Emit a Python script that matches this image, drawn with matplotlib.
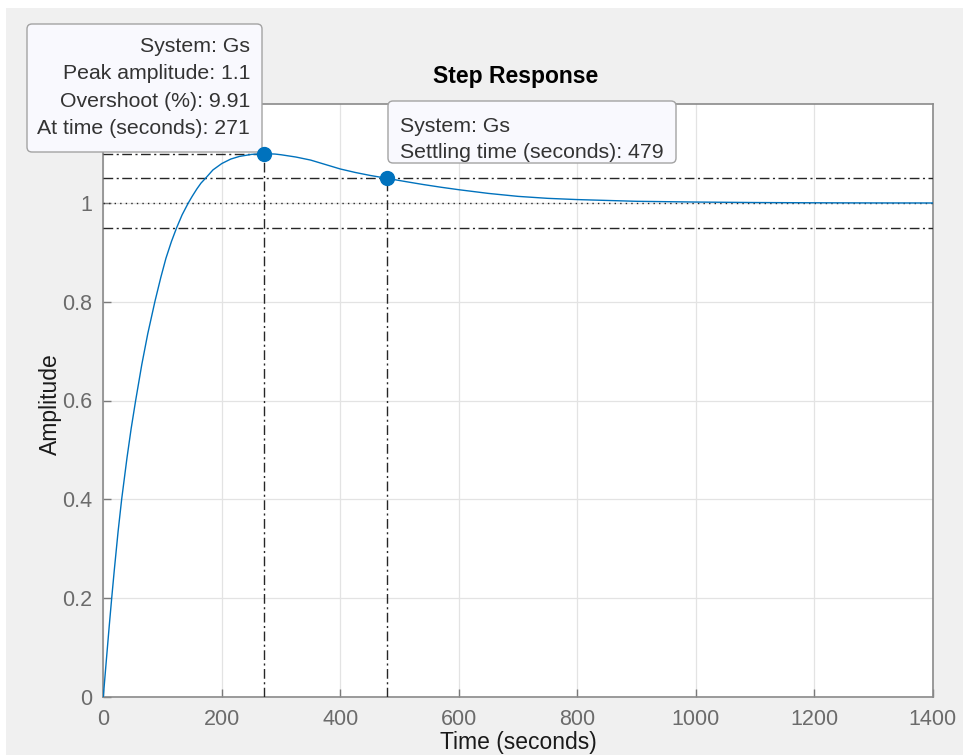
import matplotlib
matplotlib.use("Agg")
import matplotlib.pyplot as plt
from matplotlib.patches import FancyBboxPatch, Rectangle
from matplotlib.transforms import Affine2D

plt.rcParams["font.family"] = ["Liberation Sans", "DejaVu Sans"]

# step response
time_s = [0, 5, 10, 14.2, 18.6, 25, 31, 40, 47, 54.6, 65, 75, 87.2, 97, 105.7,
          115, 123.8, 133, 143.4, 150, 158, 165, 173.2, 185, 200, 215, 230, 250,
          271, 290, 300, 325, 350, 375, 400, 425, 450, 479, 510, 540, 570, 600,
          650, 700, 750, 800, 900, 1000, 1100, 1200, 1300, 1400]
amplitude = [0, 0.072, 0.143, 0.2, 0.257, 0.335, 0.4, 0.484, 0.543, 0.6, 0.673,
             0.735, 0.801, 0.849, 0.888, 0.922, 0.95, 0.976, 1.0, 1.0135, 1.0287,
             1.0405, 1.051, 1.067, 1.080, 1.089, 1.0945, 1.0985, 1.1, 1.0992,
             1.0978, 1.0932, 1.087, 1.078, 1.069, 1.062, 1.056, 1.05, 1.0435,
             1.0375, 1.032, 1.027, 1.0195, 1.0135, 1.0095, 1.007, 1.0035, 1.002,
             1.001, 1.0005, 1.0002, 1.0001]

peak_time, peak_amp = 271, 1.1
settle_time, settle_amp = 479, 1.05
final_value = 1.0
settle_band = [0.95, 1.05]

x_ticks = [0, 200, 400, 600, 800, 1000, 1200, 1400]
y_ticks = [0, 0.2, 0.4, 0.6, 0.8, 1.0]
y_tick_labels = ["0", "0.2", "0.4", "0.6", "0.8", "1"]

peak_lines = ["System: Gs", "Peak amplitude: 1.1", "Overshoot (%): 9.91",
              "At time (seconds): 271"]
settle_lines = ["System: Gs", "Settling time (seconds): 479"]

W, H = 963, 755
fig = plt.figure(figsize=(W / 100, H / 100), dpi=100, facecolor="#f0f0f0")
# pixel coordinates, origin top-left
pix = Affine2D().scale(1 / W, -1 / H).translate(0, 1) + fig.transFigure

# thin white margin along the top and left edges
fig.patches.append(Rectangle((0, 0), W, 8, transform=pix, facecolor="white",
                             edgecolor="none", zorder=-1))
fig.patches.append(Rectangle((0, 0), 6, H, transform=pix, facecolor="white",
                             edgecolor="none", zorder=-1))

ax = fig.add_axes([103.3 / W, 1 - 696.7 / H, (932.7 - 103.3) / W, (696.7 - 104.3) / H])
ax.set_facecolor("white")

ref = dict(color="#262626", lw=1.0, zorder=3)
dashdot = (0, (7, 2.5, 1.5, 2.5))
for yb in settle_band:
    ax.axhline(yb, linestyle=dashdot, **ref)
ax.axhline(final_value, linestyle=(0, (1, 3)), **ref)
ax.plot([0, peak_time], [peak_amp, peak_amp], linestyle=dashdot, **ref)
ax.plot([peak_time, peak_time], [0, peak_amp], linestyle=dashdot, **ref)
ax.plot([settle_time, settle_time], [0, settle_amp], linestyle=dashdot, **ref)

ax.plot(time_s, amplitude, color="#0072BD", lw=1.0, zorder=4)

ax.set_xlim(0, 1400)
ax.set_ylim(0, 1.2)
ax.set_xticks(x_ticks)
ax.set_yticks(y_ticks)
ax.set_yticklabels(y_tick_labels)
ax.grid(True, color="#e3e3e3", lw=0.9)
ax.set_axisbelow(True)
ax.tick_params(direction="in", length=6, width=1, color="#7a7a7a",
               labelcolor="#6b6b6b", labelsize=15.5)
ax.tick_params(axis="x", pad=9)
ax.tick_params(axis="y", pad=8)
for sp in ax.spines.values():
    sp.set_color("#8a8a8a")
    sp.set_linewidth(1.2)

fig.text(516 / W, 1 - 76.5 / H, "Step Response", ha="center", va="center",
         fontsize=16.5, fontweight="bold", color="black")
fig.text(518 / W, 1 - 742 / H, "Time (seconds)", ha="center", va="center",
         fontsize=16.5, color="#1a1a1a")
fig.text(50 / W, 1 - 404 / H, "Amplitude", ha="center", va="center",
         rotation=90, fontsize=16.5, color="#1a1a1a")

# data tips drawn above the tick labels
box_style = dict(boxstyle="round,pad=0,rounding_size=5", facecolor="#f9f9fe",
                 edgecolor="#a3a3a3", lw=1.0, transform=pix, clip_on=False,
                 zorder=6)
ax.add_artist(FancyBboxPatch((27, 24), 235, 128, **box_style))
ax.add_artist(FancyBboxPatch((388, 101), 288, 62, **box_style))

for i, line in enumerate(peak_lines):
    ax.text(250, 46 + i * 27.6, line, transform=pix, ha="right", va="center",
            fontsize=15.3, color="#333333", zorder=7, clip_on=False)
for i, line in enumerate(settle_lines):
    ax.text(400, 127 + i * 26, line, transform=pix, ha="left", va="center",
            fontsize=15.3, color="#333333", zorder=7, clip_on=False)

ax.plot([peak_time, settle_time], [peak_amp, settle_amp], linestyle="none",
        marker="o", markersize=10, color="#0072BD", clip_on=False, zorder=8)

fig.savefig("out.png", dpi=100, facecolor=fig.get_facecolor())
